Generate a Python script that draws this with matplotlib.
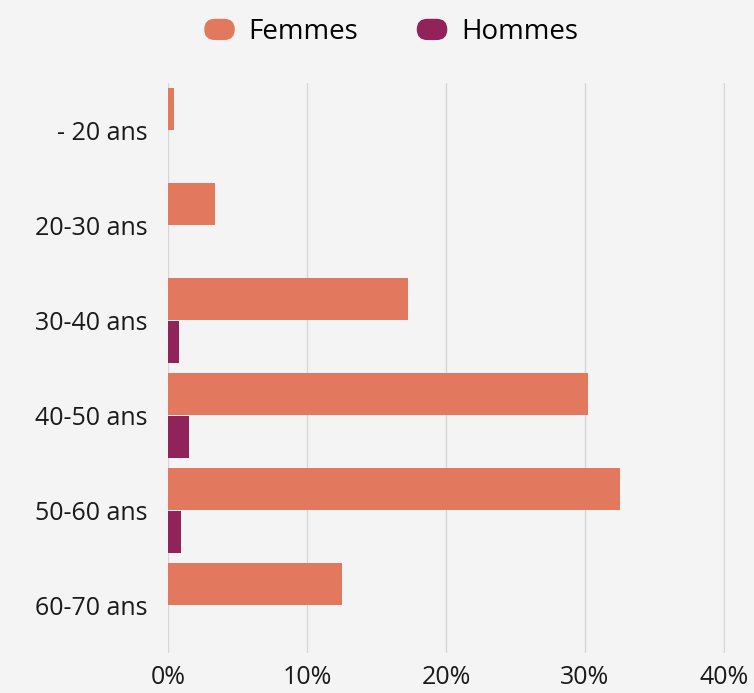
import matplotlib
matplotlib.use("Agg")
import matplotlib.pyplot as plt
from matplotlib.patches import FancyBboxPatch, Patch
from matplotlib.legend_handler import HandlerPatch
import numpy as np

categories = ["- 20 ans", "20-30 ans", "30-40 ans", "40-50 ans", "50-60 ans", "60-70 ans"]
femmes = [0.41, 3.4, 17.3, 30.2, 32.5, 12.5]
hommes = [0.0, 0.0, 0.81, 1.49, 0.93, 0.0]
xticks = [0, 10, 20, 30, 40]
xtick_labels = ["0%", "10%", "20%", "30%", "40%"]

c_f = "#E2785E"
c_h = "#92235A"
bg = "#F4F4F4"

plt.rcParams['font.family'] = ['Open Sans', 'DejaVu Sans']

fig = plt.figure(figsize=(7.54, 6.93), dpi=100, facecolor=bg)
ax = fig.add_axes([168/754, 40/693, (725-168)/754, (653-83)/693])
ax.set_facecolor(bg)

y = np.arange(len(categories))
h = 0.446
ax.barh(y - h/2 - 0.003, femmes, height=h, color=c_f, zorder=3, label="Femmes")
ax.barh(y + h/2 + 0.003, hommes, height=h, color=c_h, zorder=3, label="Hommes")

ax.set_xlim(0, 40.07)
ax.set_ylim(len(categories) - 0.5, -0.5)
ax.set_xticks(xticks)
ax.set_xticklabels(xtick_labels)
ax.set_yticks(y)
ax.set_yticklabels(categories)
ax.tick_params(axis='both', length=0, labelsize=18, labelcolor="#1a1a1a")
ax.tick_params(axis='x', pad=9)
ax.tick_params(axis='y', pad=15)
for s in ax.spines.values():
    s.set_visible(False)
ax.xaxis.grid(True, color="#d6d6d6", linewidth=1, zorder=0)
ax.set_axisbelow(True)


def pill(legend, orig_handle, xdescent, ydescent, width, height, fontsize):
    return FancyBboxPatch((-xdescent + 2, -ydescent), width - 4, height,
                          boxstyle=f"round,pad=0,rounding_size={height/2}")

handles = [Patch(facecolor=c_f, edgecolor="none", label="Femmes"),
           Patch(facecolor=c_h, edgecolor="none", label="Hommes")]
fig.legend(handles=handles, loc="upper center", bbox_to_anchor=(0.517, 1.01), ncol=2,
           frameon=False, fontsize=20, handlelength=1.3, handleheight=0.8,
           handletextpad=0.4, columnspacing=2.0,
           handler_map={Patch: HandlerPatch(patch_func=pill)})

fig.savefig("out.png", dpi=100, facecolor=bg)
